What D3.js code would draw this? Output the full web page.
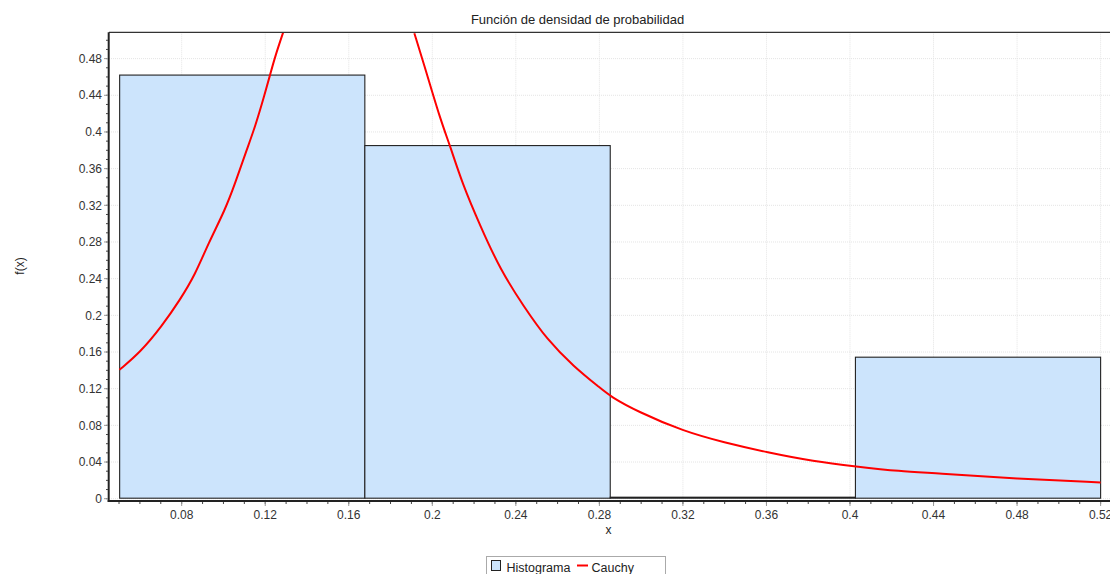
<!DOCTYPE html>
<html>
<head>
<meta charset="utf-8">
<script src="https://cdn.jsdelivr.net/npm/d3@7"></script>
<style>
  body { margin: 0; background: #fff; }
  svg { display: block; font-family: "Liberation Sans", Arial, sans-serif; }
</style>
</head>
<body>
<div class="chart"></div>
<script>
var width = 1110
var height = 574

// histogram bins (edges) and relative frequencies
var binEdges = [0.0503, 0.1677, 0.2852, 0.4026, 0.52]
var binHeights = [0.4615, 0.3846, 0, 0.1538]

// Cauchy density, rising part and falling part
var riseX = [0.0502, 0.0601, 0.0704, 0.0792, 0.0864, 0.0928, 0.1008, 0.1056, 0.1111, 0.1152, 0.1199, 0.1223, 0.1247, 0.1287]
var riseY = [0.1406, 0.1595, 0.1878, 0.2169, 0.2441, 0.2787, 0.315, 0.344, 0.3804, 0.4058, 0.4422, 0.4621, 0.4821, 0.5093]
var fallX = [0.1914, 0.1959, 0.2039, 0.2084, 0.2143, 0.2231, 0.2326, 0.2438, 0.255, 0.2677, 0.2805, 0.2853, 0.2981, 0.3204, 0.3396, 0.3604, 0.3827, 0.4027, 0.4242, 0.4402, 0.48, 0.52]
var fallY = [0.5076, 0.4749, 0.4131, 0.3858, 0.3441, 0.2968, 0.2496, 0.2096, 0.1733, 0.1442, 0.1206, 0.1115, 0.0952, 0.0734, 0.0614, 0.0505, 0.0407, 0.0352, 0.0298, 0.028, 0.0218, 0.0178]

var xTicks = [0.08, 0.12, 0.16, 0.2, 0.24, 0.28, 0.32, 0.36, 0.4, 0.44, 0.48, 0.52]
var yTicks = [0, 0.04, 0.08, 0.12, 0.16, 0.2, 0.24, 0.28, 0.32, 0.36, 0.4, 0.44, 0.48]
var xMinor = d3.range(5, 53).map(function (i) { return i / 100 })
var yMinor = d3.range(0, 51).map(function (i) { return i / 100 })

var plotLeft = 109, plotRight = 1121.5, plotTop = 32.3, zeroY = 498.7, axisY = 501

var x = d3.scaleLinear().domain([0.0452, 0.53]).range([plotLeft, plotRight])
var y = d3.scaleLinear().domain([0, 0.5087]).range([zeroY, plotTop])

function fmt(v) { return String(+v.toFixed(2)) }

var svg = d3.select('.chart').append('svg')
    .attr('width', width)
    .attr('height', height)

svg.append('defs').append('clipPath').attr('id', 'plot')
    .append('rect')
    .attr('x', plotLeft).attr('y', plotTop)
    .attr('width', plotRight - plotLeft).attr('height', axisY - plotTop)

// gridlines
svg.append('g').selectAll('line')
    .data(xTicks)
    .enter().append('line')
    .attr('x1', function (d) { return x(d) }).attr('x2', function (d) { return x(d) })
    .attr('y1', plotTop).attr('y2', axisY)
    .attr('stroke', '#e4e4e4').attr('stroke-dasharray', '1,1')

svg.append('g').selectAll('line')
    .data(yTicks)
    .enter().append('line')
    .attr('x1', plotLeft).attr('x2', plotRight)
    .attr('y1', function (d) { return y(d) }).attr('y2', function (d) { return y(d) })
    .attr('stroke', '#e4e4e4').attr('stroke-dasharray', '1,1')

// histogram bars (empty bin still shows its outline)
svg.append('g').selectAll('rect')
    .data(binHeights)
    .enter().append('rect')
    .attr('x', function (d, i) { return x(binEdges[i]) })
    .attr('width', function (d, i) { return x(binEdges[i + 1]) - x(binEdges[i]) })
    .attr('y', function (d) { return Math.min(y(d), zeroY - 1) - 0.5 })
    .attr('height', function (d) { return Math.max(zeroY - y(d), 1) })
    .attr('fill', '#cce4fc')
    .attr('stroke', '#222')
    .attr('stroke-width', 1.1)

// Cauchy curve
var line = d3.line()
    .x(function (d) { return x(d[0]) })
    .y(function (d) { return y(d[1]) })
    .curve(d3.curveBasis)

var curves = [d3.zip(riseX, riseY), d3.zip(fallX, fallY)]
svg.append('g').attr('clip-path', 'url(#plot)').selectAll('path')
    .data(curves)
    .enter().append('path')
    .attr('d', line)
    .attr('fill', 'none')
    .attr('stroke', '#ff0000')
    .attr('stroke-width', 2)

// plot top border
svg.append('line')
    .attr('x1', plotLeft).attr('x2', width)
    .attr('y1', plotTop).attr('y2', plotTop)
    .attr('stroke', '#333').attr('stroke-width', 1.3)

// y axis
svg.append('line')
    .attr('x1', plotLeft - 0.3).attr('x2', plotLeft - 0.3)
    .attr('y1', plotTop).attr('y2', axisY + 1)
    .attr('stroke', '#222').attr('stroke-width', 2)

svg.append('g').selectAll('line')
    .data(yMinor)
    .enter().append('line')
    .attr('x1', plotLeft - 3).attr('x2', plotLeft - 1)
    .attr('y1', function (d) { return y(d) }).attr('y2', function (d) { return y(d) })
    .attr('stroke', '#444')

var yTickG = svg.append('g').selectAll('g')
    .data(yTicks)
    .enter().append('g')
    .attr('transform', function (d) { return 'translate(0,' + y(d) + ')' })

yTickG.append('line')
    .attr('x1', plotLeft - 5).attr('x2', plotLeft - 1)
    .attr('stroke', '#999')
yTickG.append('text')
    .attr('x', plotLeft - 7)
    .attr('dy', '0.35em')
    .attr('text-anchor', 'end')
    .attr('font-size', 12)
    .attr('fill', '#333')
    .text(fmt)

// x axis
svg.append('line')
    .attr('x1', plotLeft - 1.3).attr('x2', width)
    .attr('y1', axisY).attr('y2', axisY)
    .attr('stroke', '#222').attr('stroke-width', 2)

svg.append('g').selectAll('line')
    .data(xMinor)
    .enter().append('line')
    .attr('x1', function (d) { return x(d) }).attr('x2', function (d) { return x(d) })
    .attr('y1', axisY + 1).attr('y2', axisY + 3)
    .attr('stroke', '#444')

var xTickG = svg.append('g').selectAll('g')
    .data(xTicks)
    .enter().append('g')
    .attr('transform', function (d) { return 'translate(' + x(d) + ',0)' })

xTickG.append('line')
    .attr('y1', axisY + 1).attr('y2', axisY + 5)
    .attr('stroke', '#999')
xTickG.append('text')
    .attr('y', 518.5)
    .attr('text-anchor', 'middle')
    .attr('font-size', 12)
    .attr('fill', '#333')
    .text(fmt)

// labels
svg.append('text')
    .attr('x', 577.5).attr('y', 24)
    .attr('text-anchor', 'middle')
    .attr('font-size', 13)
    .attr('fill', '#222')
    .text('Función de densidad de probabilidad')

svg.append('text')
    .attr('x', 608.5).attr('y', 534)
    .attr('text-anchor', 'middle')
    .attr('font-size', 12)
    .attr('fill', '#222')
    .text('x')

svg.append('text')
    .attr('transform', 'translate(24,266) rotate(-90)')
    .attr('text-anchor', 'middle')
    .attr('font-size', 12)
    .attr('fill', '#222')
    .text('f(x)')

// legend
var legend = svg.append('g')
legend.append('rect')
    .attr('x', 486.5).attr('y', 556.5)
    .attr('width', 179).attr('height', 30)
    .attr('fill', '#fff')
    .attr('stroke', '#aaa')
legend.append('rect')
    .attr('x', 491.5).attr('y', 560.5)
    .attr('width', 9).attr('height', 10)
    .attr('fill', '#cce4fc')
    .attr('stroke', '#222')
legend.append('text')
    .attr('x', 506.5).attr('y', 571.5)
    .attr('font-size', 12.5)
    .attr('fill', '#222')
    .text('Histograma')
legend.append('line')
    .attr('x1', 577).attr('x2', 588)
    .attr('y1', 565.5).attr('y2', 565.5)
    .attr('stroke', '#ff0000').attr('stroke-width', 2)
legend.append('text')
    .attr('x', 591.5).attr('y', 571.5)
    .attr('font-size', 12.5)
    .attr('fill', '#222')
    .text('Cauchy')
</script>
</body>
</html>
